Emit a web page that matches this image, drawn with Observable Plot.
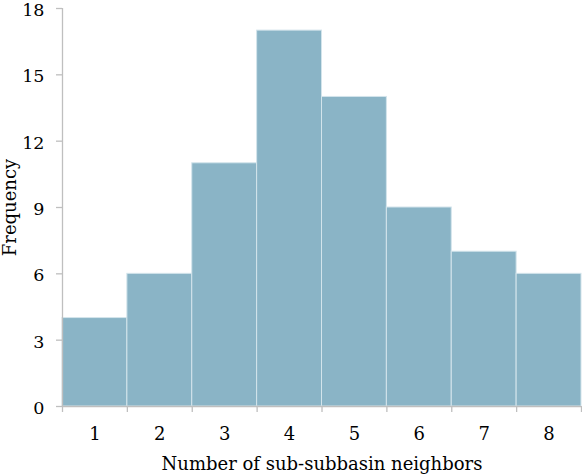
<!DOCTYPE html>
<html>
<head>
<meta charset="utf-8">
<script src="https://cdn.jsdelivr.net/npm/d3@7"></script>
<script src="https://cdn.jsdelivr.net/npm/@observablehq/plot@0.6"></script>
<style>
  html, body { margin: 0; padding: 0; background: #fff; }
</style>
</head>
<body>
<div id="chart"></div>
<script>
// Number of sub-subbasin neighbors and how often each count occurs
const neighbors = [1, 2, 3, 4, 5, 6, 7, 8];
const frequency = [4, 6, 11, 17, 14, 9, 7, 6];
const yTicks = [0, 3, 6, 9, 12, 15, 18];

const data = neighbors.map((n, i) => ({n, freq: frequency[i]}));
// bin edges sit halfway between neighbor counts
const edges = [neighbors[0] - 0.5, ...neighbors.map(n => n + 0.5)];

const axisColor = "#bfbfbf";

const chart = Plot.plot({
  width: 582,
  height: 475,
  marginLeft: 62,
  marginRight: 1,
  marginTop: 8,
  marginBottom: 69,
  style: {fontFamily: "'DejaVu Serif', serif", fontSize: "18px", color: "#000", background: "#fff"},
  x: {domain: [edges[0], edges[edges.length - 1]]},
  y: {domain: [0, 18]},
  marks: [
    Plot.rectY(data, {
      x1: d => d.n - 0.5,
      x2: d => d.n + 0.5,
      y: "freq",
      fill: "#8ab4c6",
      stroke: "#d3e4eb",
      strokeWidth: 1
    }),
    Plot.ruleY([0], {stroke: axisColor, strokeWidth: 1.3}),
    Plot.ruleX([edges[0]], {stroke: axisColor, strokeWidth: 1.3}),
    // y tick marks
    Plot.axisY(yTicks, {
      tickSize: 6, tickFormat: () => "", stroke: axisColor, strokeWidth: 1.3, label: null
    }),
    // y tick labels, nudged down so the top one stays inside the frame
    Plot.axisY(yTicks, {
      tickSize: 0, tickPadding: 18, fontSize: 17.5, dy: 2, label: null
    }),
    // y axis title
    Plot.axisY(yTicks, {
      tickSize: 0, tickFormat: () => "", fontSize: 18,
      label: "Frequency", labelAnchor: "center", labelArrow: "none", labelOffset: 59
    }),
    Plot.axisX(edges, {tickSize: 6, tickFormat: () => "", stroke: axisColor, strokeWidth: 1.3, label: null}),
    Plot.axisX(neighbors, {
      tickSize: 0, tickPadding: 21, fontSize: 18,
      label: "Number of sub-subbasin neighbors", labelAnchor: "center", labelArrow: "none", labelOffset: 63
    })
  ]
});

document.getElementById("chart").appendChild(chart);
</script>
</body>
</html>
